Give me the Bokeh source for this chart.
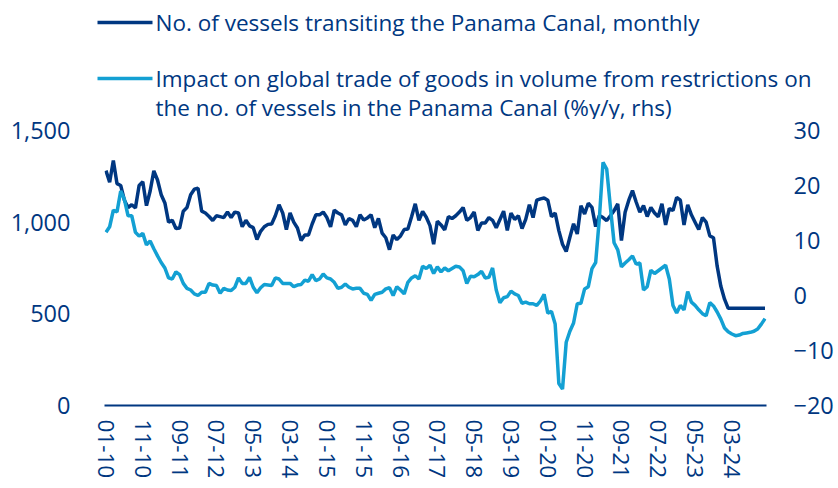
from bokeh.plotting import figure
from bokeh.layouts import column
from bokeh.models import Range1d, LinearAxis, FixedTicker, NumeralTickFormatter
from bokeh.core.properties import value
from bokeh.embed import file_html
from bokeh.resources import INLINE

# Monthly data, Jan 2010 .. Dec 2024
vessels = [
    1281, 1218, 1336, 1210, 1200, 1120, 1080, 1095, 1078, 1200,
    1220, 1090, 1170, 1280, 1230, 1150, 1105, 1000, 1010, 965,
    968, 1060, 1080, 1150, 1180, 1185, 1060, 1050, 1031, 1009,
    1035, 1030, 1025, 1055, 1025, 1055, 1050, 975, 1010, 980,
    970, 905, 950, 975, 988, 990, 1035, 1095, 1050, 960,
    1050, 1000, 968, 900, 930, 930, 990, 1040, 1040, 1055,
    1025, 975, 1065, 1050, 1040, 985, 1020, 1010, 975, 1040,
    1012, 1023, 1040, 970, 1020, 940, 915, 850, 930, 905,
    925, 960, 963, 1030, 1100, 1010, 1058, 1027, 981, 880,
    1005, 985, 958, 1030, 1020, 1035, 1055, 1080, 1010, 1025,
    1055, 955, 995, 995, 1025, 1010, 970, 1015, 1060, 955,
    1050, 1015, 1035, 965, 1015, 1095, 1025, 1120, 1127, 1132,
    1120, 1030, 1050, 954, 880, 840, 918, 991, 936, 1090,
    1045, 1103, 1081, 976, 1036, 1025, 1009, 1035, 1063, 1100,
    900, 1054, 1120, 1172, 1110, 1054, 1090, 1031, 1080, 1050,
    1030, 1100, 985, 1075, 1063, 1135, 1120, 985, 1095, 1040,
    1000, 960, 1025, 1000, 925, 915, 760, 650, 580, 530,
    530, 530, 530, 530, 530, 530, 530, 530, 530, 530,
]

impact = [
    11.5, 12.5, 15.5, 15.2, 19.0, 17.5, 14.5, 14.5, 11.5, 10.8,
    11.3, 9.2, 9.9, 8.5, 7.2, 6.0, 5.0, 3.2, 3.0, 4.3,
    3.8, 2.2, 1.3, 1.0, 0.3, 0.0, 0.6, 0.6, 2.2, 1.9,
    1.8, 0.4, 1.3, 1.0, 0.9, 1.5, 3.2, 2.2, 2.2, 3.3,
    1.5, 0.5, 1.4, 2.0, 1.9, 1.8, 3.2, 3.0, 2.2, 2.2,
    2.2, 1.6, 1.9, 2.0, 2.8, 2.6, 3.8, 2.7, 3.0, 3.9,
    3.2, 3.0, 2.4, 1.3, 1.5, 2.1, 1.5, 1.2, 1.3, 1.3,
    0.4, 0.2, -0.9, 0.2, 0.4, 0.6, 1.2, 1.4, 0.0, 1.6,
    1.0, 0.3, 2.4, 3.2, 3.6, 3.0, 5.3, 4.9, 5.5, 4.0,
    5.2, 4.3, 5.0, 4.5, 4.9, 5.3, 5.2, 4.5, 2.2, 3.5,
    3.4, 3.8, 4.4, 3.2, 3.3, 5.0, 1.0, -1.3, -0.4, -0.2,
    0.8, 0.3, 0.0, -1.4, -1.2, -1.5, -1.5, -1.8, -1.0, 0.2,
    -3.2, -2.9, -5.2, -16.0, -17.0, -8.5, -6.5, -5.0, -1.5, -1.4,
    1.2, 1.6, 4.9, 6.0, 14.0, 24.2, 23.0, 16.1, 9.6, 8.3,
    5.2, 5.9, 6.5, 7.2, 5.7, 5.9, 1.0, 1.6, 4.6, 4.0,
    4.5, 5.0, 5.5, 3.0, -1.8, -3.2, -1.8, -2.6, 0.7, -1.2,
    -1.8, -2.6, -3.3, -3.7, -1.3, -1.9, -3.0, -4.3, -5.9, -6.6,
    -7.0, -7.3, -7.2, -6.9, -6.8, -6.7, -6.5, -6.1, -5.2, -4.2,
]

tick_labels = ["01-10", "11-10", "09-11", "07-12", "05-13", "03-14", "01-15", "11-15", "09-16",
               "07-17", "05-18", "03-19", "01-20", "11-20", "09-21", "07-22", "05-23", "03-24"]
left_ticks = [0, 500, 1000, 1500]
right_ticks = [-20, -10, 0, 10, 20, 30]

legend_labels = ["No. of vessels transiting the Panama Canal, monthly",
                 "Impact on global trade of goods in volume from restrictions on",
                 "the no. of vessels in the Panama Canal (%y/y, rhs)"]

months = list(range(len(vessels)))
tick_pos = [(2000 + int(t[3:]) - 2010) * 12 + int(t[:2]) - 1 for t in tick_labels]

DARK = "#003781"
LIGHT = "#13A0D3"
FONT = "Open Sans"
W = 836
LEG_H = 119

# ---- legend strip (pixel coordinates) ----
leg = figure(width=W, height=LEG_H, output_backend="svg", toolbar_location=None,
             x_range=Range1d(0, W), y_range=Range1d(LEG_H, 0),
             x_axis_location=None, y_axis_location=None,
             min_border_left=0, min_border_right=0, min_border_top=0, min_border_bottom=0)
leg.frame_align = False
leg.xgrid.visible = False
leg.ygrid.visible = False
leg.outline_line_color = None
sw_x0, sw_x1, txt_x = 97, 152, 155
rows = [22, 78, 107]
leg.segment(x0=[sw_x0, sw_x0], y0=[rows[0], rows[1]], x1=[sw_x1, sw_x1], y1=[rows[0], rows[1]],
            line_color=[DARK, LIGHT], line_width=3.5)
leg.text(x=[txt_x] * 3, y=rows, text=legend_labels, text_baseline="middle", text_align="left",
         text_font=value(FONT), text_font_size="22.5px", text_color=DARK)

# ---- main chart ----
p = figure(width=W, height=486 - LEG_H, output_backend="svg", toolbar_location=None,
           x_range=Range1d(-0.4, 179.4), y_range=Range1d(0, 1500),
           min_border_left=104, min_border_right=62, min_border_top=130 - LEG_H, min_border_bottom=81)
p.frame_align = False
p.extra_y_ranges = {"rhs": Range1d(-20, 30)}
p.xgrid.visible = False
p.ygrid.visible = False
p.outline_line_color = None

p.line(months, vessels, line_color=DARK, line_width=3.5)
p.line(months, impact, line_color=LIGHT, line_width=3.5, y_range_name="rhs")

xa = p.xaxis[0]
xa.ticker = FixedTicker(ticks=tick_pos)
xa.major_label_overrides = {pos: lab for pos, lab in zip(tick_pos, tick_labels)}
xa.major_label_orientation = "vertical"
xa.axis_line_color = DARK
xa.axis_line_width = 2
xa.major_tick_line_color = None
xa.minor_tick_line_color = None
xa.major_label_standoff = 8

ya = p.yaxis[0]
ya.ticker = FixedTicker(ticks=left_ticks)
ya.formatter = NumeralTickFormatter(format="0,0")
ya.axis_line_color = None
ya.major_tick_line_color = None
ya.minor_tick_line_color = None
ya.major_label_standoff = 28
ya.major_label_text_align = "center"

ra = LinearAxis(y_range_name="rhs", ticker=FixedTicker(ticks=right_ticks))
ra.axis_line_color = None
ra.major_tick_line_color = None
ra.minor_tick_line_color = None
ra.major_label_standoff = 21
ra.major_label_text_align = "center"
p.add_layout(ra, "right")

for ax in (xa, ya, ra):
    ax.major_label_text_font = FONT
    ax.major_label_text_color = DARK
xa.major_label_text_font_size = "22.5px"
ya.major_label_text_font_size = "23.5px"
ra.major_label_text_font_size = "23.5px"

layout = column(leg, p, spacing=0)
open("out.html", "w").write(file_html(layout, INLINE))
